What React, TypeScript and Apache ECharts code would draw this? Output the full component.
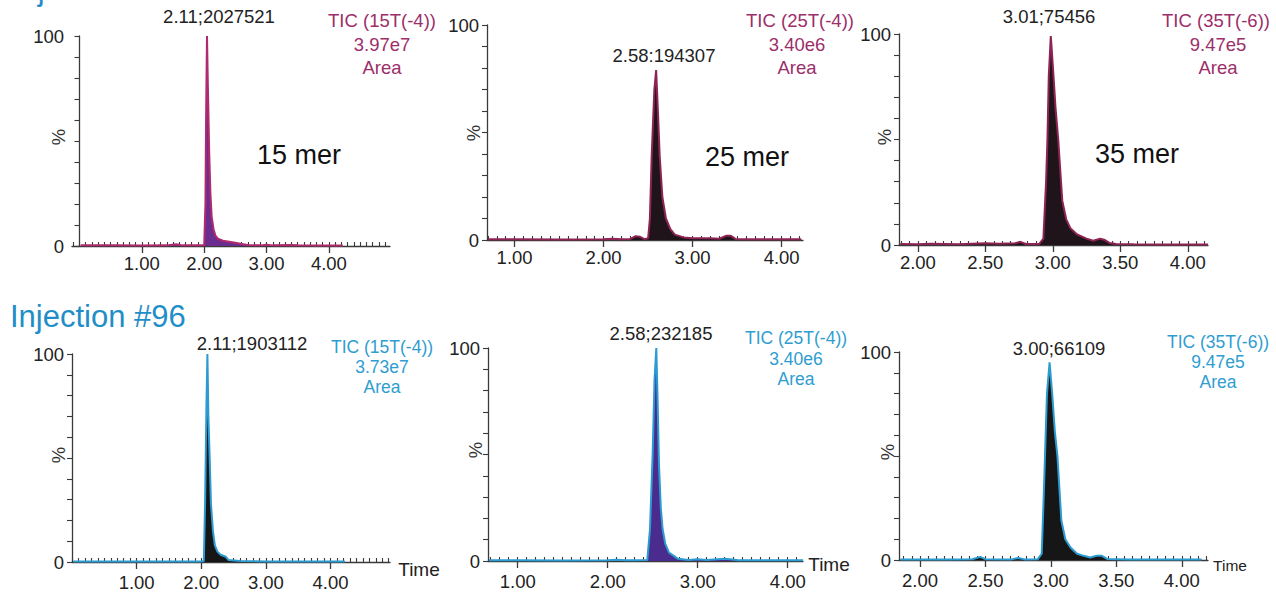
import React, { useEffect, useRef } from 'react';
import * as echarts from 'echarts';

// ---- chromatogram traces: [time (min), intensity (%)] ----
const tic15Inj1: [number, number][] = [
  [0.02, 0.4], [0.3, 0.3], [0.6, 0.3], [1.0, 0.2], [1.4, 0.3], [1.55, 0.8], [1.65, 0.3], [1.9, 0.3],
  [2.0, 0.4], [2.02, 20], [2.03, 60], [2.045, 100], [2.06, 75], [2.08, 45], [2.1, 25], [2.12, 14],
  [2.15, 8], [2.18, 5], [2.22, 3.5], [2.3, 2.5], [2.4, 2], [2.5, 1.5], [2.6, 1], [2.7, 0.5],
  [2.9, 0.3], [3.0, 0.6], [3.1, 0.3], [3.4, 0.5], [3.5, 0.3], [3.8, 0.2], [4.22, 0.2],
];
const tic25Inj1: [number, number][] = [
  [0.7, 0.3], [1.0, 0.3], [1.5, 0.2], [2.0, 0.3], [2.1, 0.6], [2.2, 0.3], [2.3, 0.5], [2.36, 1.8],
  [2.41, 1.5], [2.46, 0.4], [2.5, 0.8], [2.52, 10], [2.54, 39], [2.57, 70], [2.59, 79], [2.61, 60],
  [2.63, 39], [2.66, 20], [2.7, 10], [2.75, 5], [2.8, 2.5], [2.9, 1.2], [3.0, 0.8], [3.2, 0.8],
  [3.3, 0.6], [3.38, 2], [3.43, 2], [3.48, 0.5], [3.6, 0.3], [4.22, 0.3],
];
const tic35Inj1: [number, number][] = [
  [1.87, 0.5], [2.0, 0.3], [2.1, 0.6], [2.3, 0.4], [2.5, 0.8], [2.6, 0.6], [2.72, 0.8], [2.76, 1.5],
  [2.8, 0.5], [2.9, 0.5], [2.93, 3], [2.95, 30], [2.96, 50], [2.97, 80], [2.985, 99], [3.0, 85],
  [3.02, 65], [3.04, 50], [3.07, 21], [3.1, 12], [3.13, 8], [3.18, 5], [3.25, 3], [3.3, 2],
  [3.35, 3], [3.38, 2.5], [3.42, 1], [3.47, 0.5], [3.6, 0.3], [3.8, 0.2], [4.15, 0.2],
];
const tic15Inj96: [number, number][] = [
  [0.02, 0.3], [0.5, 0.3], [1.0, 0.2], [1.5, 0.3], [2.0, 0.3], [2.04, 0.5], [2.06, 30], [2.08, 75],
  [2.095, 100], [2.11, 70], [2.13, 50], [2.15, 28], [2.18, 15], [2.21, 8], [2.25, 5], [2.3, 3.5],
  [2.38, 2.5], [2.42, 1], [2.6, 0.5], [3.0, 0.3], [3.5, 0.3], [4.22, 0.3],
];
const tic25Inj96: [number, number][] = [
  [0.68, 0.3], [1.0, 0.3], [1.5, 0.2], [2.0, 0.3], [2.1, 0.6], [2.2, 0.4], [2.3, 0.3], [2.44, 0.5],
  [2.47, 15], [2.5, 51], [2.52, 85], [2.54, 100], [2.555, 75], [2.57, 45], [2.59, 25], [2.61, 15],
  [2.64, 8], [2.68, 4], [2.73, 2.5], [2.78, 1], [2.9, 0.5], [3.0, 0.8], [3.1, 0.5], [3.3, 1],
  [3.36, 0.8], [3.45, 0.3], [4.17, 0.3],
];
const tic35Inj96: [number, number][] = [
  [1.85, 0.3], [2.0, 0.3], [2.2, 0.3], [2.4, 0.4], [2.46, 1.5], [2.5, 0.4], [2.7, 0.3], [2.75, 1],
  [2.8, 0.3], [2.9, 0.4], [2.93, 3], [2.945, 30], [2.955, 50], [2.97, 80], [2.99, 95], [3.01, 80],
  [3.03, 62], [3.05, 50], [3.08, 19], [3.11, 10], [3.15, 6], [3.2, 3], [3.25, 2], [3.3, 1.2],
  [3.35, 2], [3.39, 2], [3.43, 0.5], [3.6, 0.3], [4.15, 0.3],
];

// ---- tick labels ----
const timeLabelsWide = [1, 2, 3, 4];
const timeLabelsNarrow = [2, 2.5, 3, 3.5, 4];
const yLabels = [0, 100];

// ---- texts ----
const peakLabels = ['2.11;2027521', '2.58:194307', '3.01;75456', '2.11;1903112', '2.58;232185', '3.00;66109'];
const ticNames = ['TIC (15T(-4))', 'TIC (25T(-4))', 'TIC (35T(-6))', 'TIC (15T(-4))', 'TIC (25T(-4))', 'TIC (35T(-6))'];
const ticAreas = ['3.97e7', '3.40e6', '9.47e5', '3.73e7', '3.40e6', '9.47e5'];
const merLabels = ['15 mer', '25 mer', '35 mer'];
const injectionTitles = ['Injection #1', 'Injection #96'];

const FONT = '"Liberation Sans", Arial, Helvetica, sans-serif';
const MAGENTA = '#b02a6e';
const MAROON = '#8e2454';
const PLUM_TEXT = '#9c2e6a';
const BLUE = '#2b9bd1';
const BLUE_TEXT = '#2f9dd0';
const AXIS = '#3a3a3a';
const TXT = 18.5;
const TXT_B = 17.5;

const panels = [
  { data: tic15Inj1, left: 72, top: 36, width: 318, height: 210, min: -0.12, max: 4.98, labels: timeLabelsWide, step: 0.1, line: MAGENTA, fill: '#6a2c8e', labelMargin: 8 },
  { data: tic25Inj1, left: 487, top: 25, width: 316, height: 215, min: 0.69, max: 4.24, labels: timeLabelsWide, step: 0.1, line: MAROON, fill: '#1e1419', labelMargin: 8 },
  { data: tic35Inj1, left: 899, top: 34, width: 309, height: 211, min: 1.86, max: 4.15, labels: timeLabelsNarrow, step: 0.0625, line: MAROON, fill: '#1e1419', labelMargin: 8 },
  { data: tic15Inj96, left: 72, top: 354, width: 318, height: 210, min: 0, max: 4.92, labels: timeLabelsWide, step: 0.1, line: BLUE, fill: '#161616', labelMargin: 11 },
  { data: tic25Inj96, left: 488, top: 348, width: 315, height: 213, min: 0.67, max: 4.17, labels: timeLabelsWide, step: 0.1, line: BLUE, fill: '#4a2c8f', labelMargin: 11 },
  { data: tic35Inj96, left: 899, top: 352, width: 309, height: 208, min: 1.84, max: 4.2, labels: timeLabelsNarrow, step: 0.0625, line: BLUE, fill: '#161616', labelMargin: 11 },
];

// "%" axis-title positions (centre)
const pctPos: [number, number][] = [[58, 137], [473, 133], [884, 137], [58, 455], [475, 450], [887, 452]];

function minorTicks(min: number, max: number, step: number): number[] {
  const out: number[] = [];
  const start = Math.ceil(min / step - 1e-9);
  for (let i = start; i * step <= max + 1e-9; i++) out.push(+(i * step).toFixed(4));
  return out;
}

function txt(x: number, y: number, text: string, size: number, fill: string, align = 'center', vAlign = 'middle', rotation = 0) {
  return {
    type: 'text',
    x,
    y,
    rotation,
    silent: true,
    style: {
      text,
      fill,
      font: `${size}px ${FONT}`,
      align,
      textAlign: align,
      verticalAlign: vAlign,
      textVerticalAlign: vAlign,
    },
  };
}

function buildOption() {
  const grid: any[] = [];
  const xAxis: any[] = [];
  const yAxis: any[] = [];
  const series: any[] = [];

  panels.forEach((p, i) => {
    grid.push({ left: p.left, top: p.top, width: p.width, height: p.height, containLabel: false });
    xAxis.push({
      type: 'value',
      gridIndex: i,
      min: p.min,
      max: p.max,
      axisLine: { show: true, onZero: false, lineStyle: { color: AXIS, width: 1.3 } },
      axisTick: { show: true, customValues: p.labels, length: 7, lineStyle: { color: AXIS, width: 1.3 } },
      axisLabel: {
        show: true,
        customValues: p.labels,
        formatter: (v: number) => v.toFixed(2),
        color: '#222',
        fontFamily: FONT,
        fontSize: TXT,
        margin: p.labelMargin,
      },
      splitLine: { show: false },
    });
    xAxis.push({
      type: 'value',
      gridIndex: i,
      min: p.min,
      max: p.max,
      axisLine: { show: false },
      axisTick: { show: true, customValues: minorTicks(p.min, p.max, p.step), length: 4, lineStyle: { color: AXIS, width: 1.1 } },
      axisLabel: { show: false },
      splitLine: { show: false },
    });
    yAxis.push({
      type: 'value',
      gridIndex: i,
      min: 0,
      max: 100,
      interval: 10,
      axisLine: { show: true, lineStyle: { color: AXIS, width: 1.3 } },
      axisTick: { show: true, length: 5, lineStyle: { color: AXIS, width: 1.1 } },
      axisLabel: {
        show: true,
        formatter: (v: number) => (yLabels.indexOf(v) >= 0 ? String(v) : ''),
        color: '#222',
        fontFamily: FONT,
        fontSize: TXT,
        margin: 8,
      },
      splitLine: { show: false },
    });
    series.push({
      type: 'line',
      xAxisIndex: i * 2,
      yAxisIndex: i,
      data: p.data,
      showSymbol: false,
      symbol: 'none',
      clip: true,
      lineStyle: { color: p.line, width: 2 },
      itemStyle: { color: p.line },
      areaStyle: { color: p.fill, opacity: 1, origin: 'start' },
      z: 3,
    });
  });

  const graphic: any[] = [
    txt(12, 5, injectionTitles[0], 31, '#1f8ec8', 'left', 'bottom'),
    txt(10, 316, injectionTitles[1], 31, '#1f8ec8', 'left', 'middle'),

    txt(219, 16, peakLabels[0], TXT, '#222'),
    txt(382, 20, ticNames[0], TXT, PLUM_TEXT),
    txt(382, 44, ticAreas[0], TXT, PLUM_TEXT),
    txt(382, 67, 'Area', TXT, PLUM_TEXT),
    txt(299, 155, merLabels[0], 27, '#111'),

    txt(664, 55, peakLabels[1], TXT, '#222'),
    txt(800, 20, ticNames[1], TXT, PLUM_TEXT),
    txt(797, 44, ticAreas[1], TXT, PLUM_TEXT),
    txt(797, 67, 'Area', TXT, PLUM_TEXT),
    txt(747, 157, merLabels[1], 27, '#111'),

    txt(1049, 16, peakLabels[2], TXT, '#222'),
    txt(1216, 20, ticNames[2], TXT, PLUM_TEXT),
    txt(1218, 44, ticAreas[2], TXT, PLUM_TEXT),
    txt(1218, 67, 'Area', TXT, PLUM_TEXT),
    txt(1137, 154, merLabels[2], 27, '#111'),

    txt(252, 343, peakLabels[3], TXT, '#222'),
    txt(382, 347, ticNames[3], TXT_B, BLUE_TEXT),
    txt(382, 367, ticAreas[3], TXT_B, BLUE_TEXT),
    txt(382, 387, 'Area', TXT_B, BLUE_TEXT),
    txt(419, 569, 'Time', 19, '#222'),

    txt(661, 333, peakLabels[4], TXT, '#222'),
    txt(796, 338, ticNames[4], TXT_B, BLUE_TEXT),
    txt(796, 359, ticAreas[4], TXT_B, BLUE_TEXT),
    txt(796, 379, 'Area', TXT_B, BLUE_TEXT),
    txt(829, 564, 'Time', 19, '#222'),

    txt(1059, 348, peakLabels[5], TXT, '#222'),
    txt(1218, 342, ticNames[5], TXT_B, BLUE_TEXT),
    txt(1218, 362, ticAreas[5], TXT_B, BLUE_TEXT),
    txt(1218, 382, 'Area', TXT_B, BLUE_TEXT),
    txt(1230, 565, 'Time', 15.5, '#222'),
  ];
  pctPos.forEach(([x, y]) => graphic.push(txt(x, y, '%', TXT, '#333', 'center', 'middle', Math.PI / 2)));

  return {
    animation: false,
    backgroundColor: '#ffffff',
    textStyle: { fontFamily: FONT },
    grid,
    xAxis,
    yAxis,
    series,
    graphic,
  };
}

export default function App() {
  const ref = useRef<HTMLDivElement>(null);
  useEffect(() => {
    if (!ref.current) return;
    const chart = echarts.init(ref.current, null, { renderer: 'svg' });
    chart.setOption(buildOption() as any);
    return () => chart.dispose();
  }, []);
  return (
    <div
      ref={ref}
      style={{ position: 'absolute', left: 0, top: 0, width: 1276, height: 592, background: '#fff' }}
    />
  );
}
